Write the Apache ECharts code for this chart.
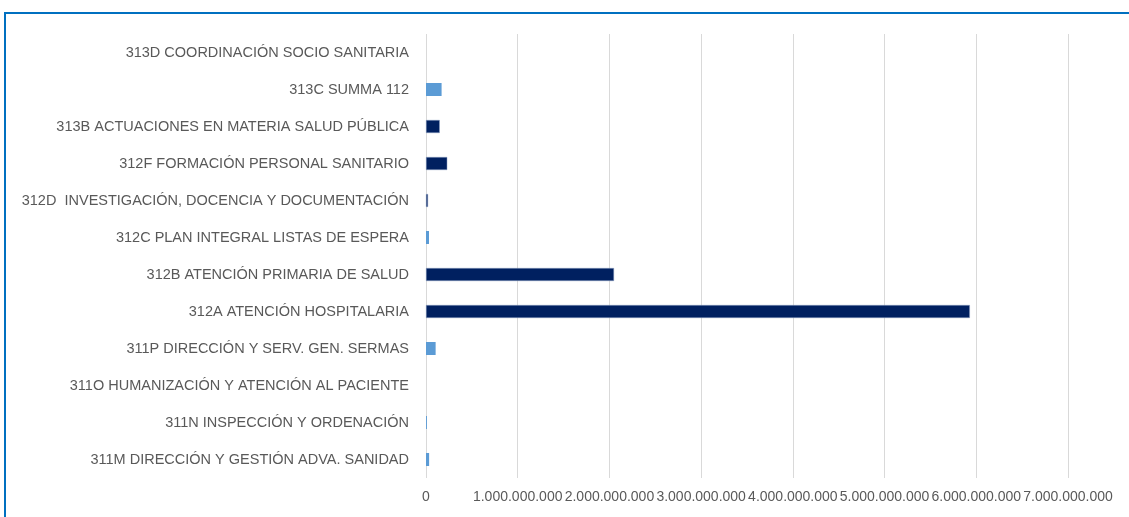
<!DOCTYPE html>
<html>
<head>
<meta charset="utf-8">
<script src="https://cdn.jsdelivr.net/npm/echarts@6/dist/echarts.min.js"></script>
<style>
  html, body { margin: 0; padding: 0; background: #fff; }
  #chart { width: 1129px; height: 517px; }
</style>
</head>
<body>
<div id="chart"></div>
<script>
// categories from bottom to top
const programas = [
  "311M DIRECCIÓN Y GESTIÓN ADVA. SANIDAD",
  "311N INSPECCIÓN Y ORDENACIÓN",
  "311O HUMANIZACIÓN Y ATENCIÓN AL PACIENTE",
  "311P DIRECCIÓN Y SERV. GEN. SERMAS",
  "312A ATENCIÓN HOSPITALARIA",
  "312B ATENCIÓN PRIMARIA DE SALUD",
  "312C PLAN INTEGRAL LISTAS DE ESPERA",
  "312D  INVESTIGACIÓN, DOCENCIA Y DOCUMENTACIÓN",
  "312F FORMACIÓN PERSONAL SANITARIO",
  "313B ACTUACIONES EN MATERIA SALUD PÚBLICA",
  "313C SUMMA 112",
  "313D COORDINACIÓN SOCIO SANITARIA"
];

// light blue bars
const importeClaro = [34000000, 10000000, null, 105000000, null, null, 33000000, null, null, null, 170000000, null];
// dark navy bars
const importeOscuro = [null, null, null, null, 5930000000, 2050000000, null, 22000000, 232000000, 150000000, null, null];

const ejeMax = 7000000000;
const ejePaso = 1000000000;

const fmt = v => String(v).replace(/\B(?=(\d{3})+(?!\d))/g, ".");

const chart = echarts.init(document.getElementById("chart"));
chart.setOption({
  animation: false,
  graphic: [
    {
      type: "rect",
      shape: { x: 5, y: 13, width: 1200, height: 600 },
      style: { fill: "none", stroke: "#0070C0", lineWidth: 2 },
      z: 0
    }
  ],
  grid: { left: 426, right: 61, top: 34, bottom: 39 },
  xAxis: {
    type: "value",
    min: 0,
    max: ejeMax,
    interval: ejePaso,
    axisLine: { show: false },
    axisTick: { show: false },
    splitLine: { lineStyle: { color: "#d9d9d9", width: 1 } },
    axisLabel: {
      color: "#595959",
      fontFamily: "Liberation Sans",
      fontSize: 14,
      margin: 12,
      showMinLabel: true,
      showMaxLabel: true,
      hideOverlap: false,
      formatter: fmt
    }
  },
  yAxis: {
    type: "category",
    data: programas,
    axisLine: { show: false },
    axisTick: { show: false },
    axisLabel: {
      color: "#595959",
      fontFamily: "Liberation Sans",
      fontSize: 14.5,
      margin: 17
    }
  },
  series: [
    {
      name: "claro",
      type: "bar",
      stack: "total",
      data: importeClaro,
      barWidth: 13,
      itemStyle: { color: "#5B9BD5" }
    },
    {
      name: "oscuro",
      type: "bar",
      stack: "total",
      data: importeOscuro,
      barWidth: 13,
      itemStyle: { color: "#002060", borderColor: "#8EA0C4", borderWidth: 0.5 }
    }
  ]
});
</script>
</body>
</html>
